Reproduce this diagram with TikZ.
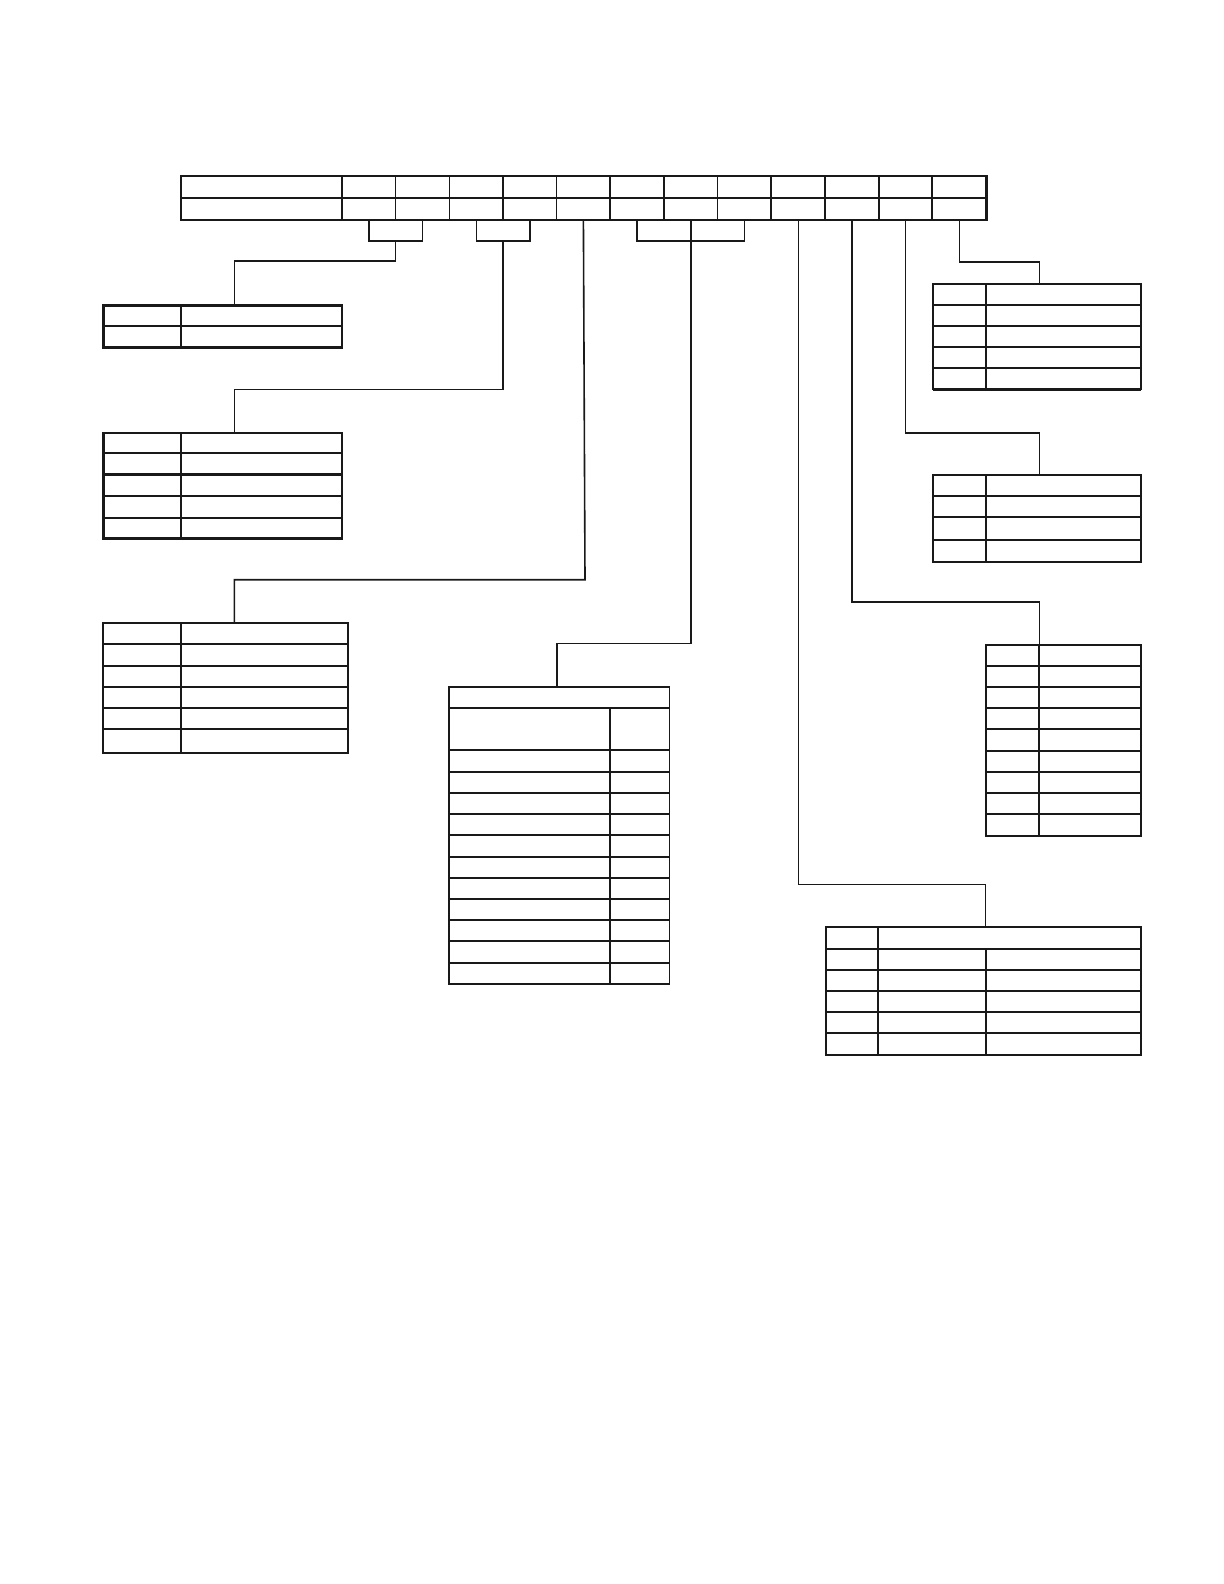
\documentclass[tikz,border=0pt]{standalone}
\begin{document}
\begin{tikzpicture}[x=0.5pt,y=-0.5pt,
  grid/.style={line width=0.85pt,black!90},
  heavy/.style={line width=1.2pt,black!90},
  conn/.style={line width=0.8pt,black!90}]
\useasboundingbox[fill=white] (0,0) rectangle (1224,1584);

% ---------- top record table ----------
\draw[heavy] (181,176) rectangle (986.3,220);
\draw[grid] (181,198) -- (986.3,198);
\foreach \x in {395.5,449.5,556.5,610.3,717.5,771.3,825.3,879,932.3}
  \draw[grid] (\x,176) -- (\x,220);
\foreach \x in {342,503,664}
  \draw[heavy] (\x,176) -- (\x,220);

% attach points under the top table
\coordinate (s1) at (395.5,241);
\coordinate (s2) at (503,241);
\coordinate (s3) at (583.4,220);
\coordinate (s4) at (690.75,220);
\coordinate (s5) at (798.3,220);
\coordinate (s6) at (852.15,220);
\coordinate (s7) at (905.65,220);
\coordinate (s8) at (959.3,220);

% brackets
\draw[conn] (368.75,220) |- (422.5,241) -- (422.5,220);
\draw[conn] (476.5,220) |- (529.75,241) -- (529.75,220);
\draw[conn] (637.15,220) |- (744.4,241) -- (744.4,220);

% ---------- table A ----------
\coordinate (tA) at (234.3,305.3);
\draw[heavy] (103.3,305.3) rectangle (342,347.3);
\draw[grid] (103.3,326) -- (342,326);
\draw[heavy] (181,305.3) -- (181,347.3);

% ---------- table B ----------
\coordinate (tB) at (234.3,432.7);
\draw[heavy] (103.3,432.7) rectangle (342,538.3);
\foreach \y in {453.3,496.3,517.7} \draw[grid] (103.3,\y) -- (342,\y);
\draw[heavy] (103.3,474.3) -- (342,474.3);
\draw[heavy] (181,432.7) -- (181,538.3);

% ---------- table C ----------
\coordinate (tC) at (234.3,623.3);
\draw[grid] (103.3,623.3) rectangle (348.3,753.3);
\foreach \y in {644.3,687.3,708.3,729.3} \draw[grid] (103.3,\y) -- (348.3,\y);
\draw[heavy] (103.3,665.7) -- (348.3,665.7);
\draw[heavy] (181,623.3) -- (181,753.3);

% ---------- table D ----------
\coordinate (tD) at (557,687.3);
\draw[grid] (449.3,687.3) rectangle (669.6,983.7);
\foreach \y in {708.3,750.3,793.3,814.3,835.3,878.3,899.3,920.3,941.3}
  \draw[grid] (449.3,\y) -- (669.6,\y);
\foreach \y in {771.7,856.7,962.7}
  \draw[heavy] (449.3,\y) -- (669.6,\y);
\draw[grid] (610.3,708.3) -- (610.3,983.7);

% ---------- table E ----------
\coordinate (tE) at (1039.3,474.7);
\draw[grid] (932.7,474.7) rectangle (1141.3,562);
\foreach \y in {496,517.3,540} \draw[grid] (932.7,\y) -- (1141.3,\y);
\draw[grid] (986.3,474.7) -- (986.3,562);
\draw[heavy] (932.7,474.7) -- (1141.3,474.7);

% ---------- table F ----------
\coordinate (tF) at (1039.3,644.7);
\draw[grid] (986.3,644.7) rectangle (1141.3,836);
\foreach \y in {666.3,687.3,708.3,729.3,751.3,772.3,793.3,814.3}
  \draw[grid] (986.3,\y) -- (1141.3,\y);
\draw[heavy] (986.3,644.7) -- (1141.3,644.7);
\draw[grid] (1039.3,644.7) -- (1039.3,836);

% ---------- table G ----------
\coordinate (tG) at (985.3,927.3);
\draw[grid] (825.7,927.3) rectangle (1141.3,1054.7);
\foreach \y in {970,991.3,1012.3,1033.3} \draw[grid] (825.7,\y) -- (1141.3,\y);
\draw[heavy] (825.7,948.7) -- (1141.3,948.7);
\draw[heavy] (825.7,1054.7) -- (1141.3,1054.7);
\draw[grid] (878.3,927.3) -- (878.3,1054.7);
\draw[grid] (986.3,948.7) -- (986.3,1054.7);

% ---------- table H ----------
\coordinate (tH) at (1039.3,284);
\draw[grid] (932.7,284) rectangle (1141.3,389.3);
\foreach \y in {305,326.3,347.3,368.3} \draw[grid] (932.7,\y) -- (1141.3,\y);
\draw[heavy] (932.7,284) -- (1141.3,284);
\draw[heavy] (932.7,389.3) -- (1141.3,389.3);
\draw[grid] (986.3,284) -- (986.3,389.3);

% ---------- connectors ----------
\draw[conn] (s1) -- (395.5,261) -| (tA);
\draw[conn] (s2) -- (503,389.3) -| (tB);
\draw[conn] (s3) -- (585,579.7) -| (tC);
\draw[conn] (s4) -- (690.75,643.4) -| (tD);
\draw[conn] (s5) -- (798.3,884.3) -| (tG);
\draw[conn] (s6) -- (852.15,602) -| (tF);
\draw[conn] (s7) -- (905.65,432.7) -| (tE);
\draw[conn] (s8) -- (959.3,261.7) -| (tH);
\end{tikzpicture}
\end{document}
